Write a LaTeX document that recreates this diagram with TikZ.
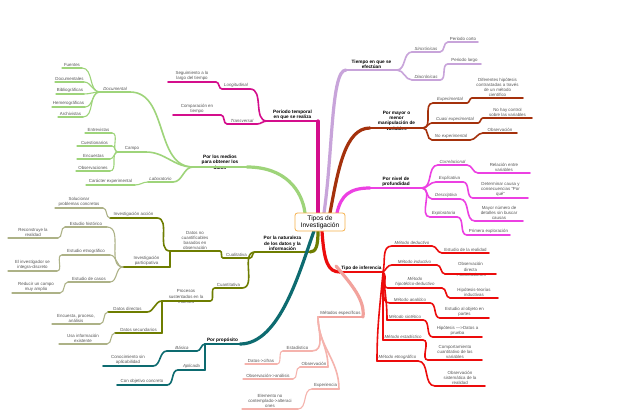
\documentclass[tikz,border=0pt]{standalone}
\usepackage{fontspec}
\setmainfont{Liberation Sans}
\definecolor{cA}{HTML}{9ED47A}
\definecolor{cB}{HTML}{6E7D00}
\definecolor{cBl}{HTML}{ADB287}
\definecolor{cC}{HTML}{0D6B70}
\definecolor{cD}{HTML}{D40E8C}
\definecolor{cE}{HTML}{C8A4DA}
\definecolor{cF}{HTML}{A4310C}
\definecolor{cG}{HTML}{EC40E2}
\definecolor{cH}{HTML}{EC0C0C}
\definecolor{cI}{HTML}{F2A29C}
\definecolor{cIl}{HTML}{F5B3AD}
\definecolor{cO}{HTML}{F6B04C}
\definecolor{tgray}{HTML}{555555}
\tikzset{
  lf/.style={font=\fontsize{4.4}{5.1}\selectfont, text=tgray, align=center, inner xsep=0pt, inner ysep=1.6pt, outer sep=0pt},
  lfi/.style={lf, font=\fontsize{4.4}{5.1}\selectfont\itshape},
  mn/.style={lf, font=\fontsize{4.7}{5.2}\selectfont\bfseries, text=black},
  ov/.style={inner ysep=-2.2pt},
  w0/.style={line width=3.2pt, line cap=round},
  w1/.style={line width=2.4pt, line cap=round},
  w2/.style={line width=1.6pt, line cap=round},
  w3/.style={line width=1.1pt, line cap=round},
  rootbox/.style={draw=cO, line width=0.8pt, rounded corners=2.5pt, fill=white, minimum width=50pt, minimum height=18pt, inner sep=1pt, align=center, font=\fontsize{6.6}{7.2}\selectfont, text=black}
}
\newcommand{\mmtopic}[7]{%
  \node[#1, minimum width={(#5-#4)*1pt}, anchor=south] (#3) at ({(#4+#5)/2},{-#6}) {#7};
  \draw[#2] (#3.south west) -- (#3.south east);}
\newcommand{\mmR}[3]{\draw[#1] (#2.south east) to[out=0,in=180] (#3.south west);}
\newcommand{\mmL}[3]{\draw[#1] (#2.south west) to[out=180,in=0] (#3.south east);}
\begin{document}
\begin{tikzpicture}[x=1pt,y=1pt]
\fill[white] (0,0) rectangle (640,-418);
\useasboundingbox (0,0) rectangle (640,-418);
% connection points on the central box
\coordinate (rA) at (305,-213);
\coordinate (rD) at (318,-213);
\coordinate (rE) at (324,-213);
\coordinate (rF) at (330,-213);
\coordinate (rG) at (337,-213);
\coordinate (rH) at (322,-231);
\coordinate (rI) at (336,-266);
\coordinate (rC) at (314,-231);
\coordinate (rB) at (318,-231);

% ---------- green: medios ----------
\mmtopic{mn,ov}{cA,w1}{A0}{193}{247}{167}{Por los medios\\para obtener los\\datos}
\mmtopic{lfi}{cA,w2}{A1}{100}{130}{92}{Documental}
\mmtopic{lf}{cA,w3}{A11}{62}{82}{68}{Fuentes}
\mmtopic{lf}{cA,w3}{A12}{55}{84}{82}{Documentales}
\mmtopic{lf}{cA,w3}{A13}{56}{84}{94}{Bibliográficas}
\mmtopic{lf}{cA,w3}{A14}{52}{85}{107}{Hemerográficas}
\mmtopic{lf}{cA,w3}{A15}{58}{83}{117}{Archivistas}
\mmtopic{lf}{cA,w2}{A2}{118}{146}{152}{Campo}
\mmtopic{lf}{cA,w3}{A21}{85}{112}{133}{Entrevistas}
\mmtopic{lf}{cA,w3}{A22}{77}{112}{146}{Cuestionarios}
\mmtopic{lf}{cA,w3}{A23}{77}{110}{159}{Encuestas}
\mmtopic{lf}{cA,w3}{A24}{76}{110}{171}{Observaciones}
\mmtopic{lfi}{cA,w2}{A3}{148}{173}{182}{Laboratorio}
\mmtopic{lf}{cA,w3}{A31}{86}{135}{185}{Carácter experimental}
\mmL{cA,w2}{A0}{A1}
\mmL{cA,w2}{A0}{A2}
\mmL{cA,w2}{A0}{A3}
\mmL{cA,w3}{A1}{A11}
\mmL{cA,w3}{A1}{A12}
\mmL{cA,w3}{A1}{A13}
\mmL{cA,w3}{A1}{A14}
\mmL{cA,w3}{A1}{A15}
\mmL{cA,w3}{A2}{A21}
\mmL{cA,w3}{A2}{A22}
\mmL{cA,w3}{A2}{A23}
\mmL{cA,w3}{A2}{A24}
\mmL{cA,w3}{A3}{A31}
\draw[cA,w0] (A0.south east) .. controls (285,-167) and (302,-190) .. (rA);

% ---------- olive: naturaleza ----------
\mmtopic{mn}{cB,w1}{B0}{255}{310}{252}{Por la naturaleza\\de los datos y la\\información}
\mmtopic{lf}{cB,w2}{B1}{223}{250}{258}{Cualitativa}
\mmtopic{lf}{cB,w2}{B2}{215}{242}{288}{Cuantitativa}
\mmtopic{lf}{cB,w2}{B1c}{170}{220}{251}{Datos no\\cuantificables\\basados en\\observación}
\mmtopic{lf}{cB,w2}{B11}{110}{157}{218}{Investigación acción}
\mmtopic{lf}{cB,w2}{B12}{123}{170}{267}{Investigación\\participativa}
\mmtopic{lf}{cBl,w3}{B11c}{55}{103}{208}{Solucionar\\problemas concretos}
\mmtopic{lf}{cBl,w3}{B121}{65}{107}{227}{Estudio histórico}
\mmtopic{lf}{cBl,w3}{B122}{62}{110}{255}{Estudio etnográfico}
\mmtopic{lf}{cBl,w3}{B123}{68}{110}{282}{Estudio de casos}
\mmtopic{lf}{cBl,w3}{B121c}{8}{58}{238}{Reconstruye la\\realidad}
\mmtopic{lf}{cBl,w3}{B122c}{8}{57}{271}{El investigador se\\integra-discreto}
\mmtopic{lf}{cBl,w3}{B123c}{12}{60}{293}{Reducir un campo\\muy amplio}
\mmtopic{lf,ov}{cB,w2}{B2c}{162}{210}{301}{Procesos\\sustentados en la\\muestra}
\mmtopic{lf}{cB,w2}{B21}{108}{147}{312}{Datos directos}
\mmtopic{lf}{cB,w2}{B22}{115}{162}{333}{Datos secundarios}
\mmtopic{lf}{cBl,w3}{B21c}{52}{100}{324}{Encuesta, proceso,\\análisis}
\mmtopic{lf}{cBl,w3}{B22c}{59}{107}{344}{Usa información\\existente}
\mmL{cB,w2}{B0}{B1}
\mmL{cB,w2}{B0}{B2}
\mmL{cB,w2}{B1}{B1c}
\mmL{cB,w2}{B1c}{B11}
\draw[cB,w2] (B1c.south west) -- (B12.south east);
\mmL{cBl,w3}{B11}{B11c}
\mmL{cBl,w3}{B12}{B121}
\mmL{cBl,w3}{B12}{B122}
\mmL{cBl,w3}{B12}{B123}
\mmL{cBl,w3}{B121}{B121c}
\mmL{cBl,w3}{B122}{B122c}
\mmL{cBl,w3}{B123}{B123c}
\mmL{cB,w2}{B2}{B2c}
\mmL{cB,w2}{B2c}{B21}
\draw[cB,w2] (B2c.south west) -- (B22.south east);
\mmL{cBl,w3}{B21}{B21c}
\mmL{cBl,w3}{B22}{B22c}
\draw[cB,w0] (rB) .. controls (318,-246) and (316,-252) .. (B0.south east);

% ---------- teal: proposito ----------
\mmtopic{mn}{cC,w1}{C0}{205}{240}{344}{Por propósito}
\mmtopic{lfi}{cC,w2}{C1}{167}{197}{351}{Básica}
\mmtopic{lfi}{cC,w2}{C2}{178}{205}{370}{Aplicada}
\mmtopic{lf}{cC,w2}{C1c}{103}{153}{366}{Conocimiento sin\\aplicabilidad}
\mmtopic{lf}{cC,w2}{C2c}{117}{167}{385}{Con objetivo concreto}
\mmL{cC,w2}{C0}{C1}
\draw[cC,w2] (C0.south west) -- (C2.south east);
\mmL{cC,w2}{C1}{C1c}
\mmL{cC,w2}{C2}{C2c}
\draw[cC,w0] (rC) .. controls (300,-270) and (280,-344) .. (C0.south east);

% ---------- magenta: periodo ----------
\mmtopic{mn}{cD,w1}{D0}{267}{318}{121}{Periodo temporal\\en que se realiza}
\mmtopic{lfi}{cD,w2}{D1}{222}{250}{89}{Longitudinal}
\mmtopic{lfi}{cD,w2}{D2}{227}{257}{124}{Transversal}
\mmtopic{lf}{cD,w2}{D1c}{168}{216}{82}{Seguimiento a lo\\largo del tiempo}
\mmtopic{lf}{cD,w2}{D2c}{173}{221}{115}{Comparación en\\tiempo}
\mmL{cD,w2}{D0}{D1}
\mmL{cD,w2}{D0}{D2}
\mmL{cD,w2}{D1}{D1c}
\mmL{cD,w2}{D2}{D2c}
\draw[cD,w0] (D0.south east) -- (rD);

% ---------- lilac: tiempo ----------
\mmtopic{mn}{cE,w1}{E0}{346}{397}{70}{Tiempo en que se\\efectúan}
\mmtopic{lfi}{cE,w2}{E1}{412}{440}{52}{Sincrónicas}
\mmtopic{lfi}{cE,w2}{E2}{412}{440}{80}{Diacrónicas}
\mmtopic{lf}{cE,w2}{E1c}{448}{478}{42}{Periodo corto}
\mmtopic{lf}{cE,w2}{E2c}{448}{481}{64}{Periodo largo}
\mmR{cE,w2}{E0}{E1}
\mmR{cE,w2}{E0}{E2}
\mmR{cE,w2}{E1}{E1c}
\mmR{cE,w2}{E2}{E2c}
\draw[cE,w0] (rE) .. controls (333,-150) and (331,-70) .. (E0.south west);

% ---------- brown: manipulacion ----------
\mmtopic{mn,ov}{cF,w1}{F0}{370}{423}{128}{Por mayor o\\menor\\manipulación de\\variables}
\mmtopic{lfi}{cF,w2}{F1}{433}{467}{103}{Experimental}
\mmtopic{lfi}{cF,w2}{F2}{432}{478}{123}{Cuasi experimental}
\mmtopic{lfi}{cF,w2}{F3}{432}{470}{140}{No experimental}
\mmtopic{lf}{cF,w2}{F1c}{472}{523}{98}{Diferentes hipótesis\\contrastadas a través\\de un método\\científico}
\mmtopic{lf}{cF,w2}{F2c}{483}{532}{118}{No hay control\\sobre las variables}
\mmtopic{lf}{cF,w2}{F3c}{483}{517}{133}{Observación}
\mmR{cF,w2}{F0}{F1}
\mmR{cF,w2}{F0}{F2}
\mmR{cF,w2}{F0}{F3}
\mmR{cF,w2}{F1}{F1c}
\mmR{cF,w2}{F2}{F2c}
\mmR{cF,w2}{F3}{F3c}
\draw[cF,w0] (rF) .. controls (338,-170) and (345,-128) .. (F0.south west);

% ---------- pink: profundidad ----------
\mmtopic{mn}{cG,w1}{G0}{370}{422}{188}{Por nivel de\\profundidad}
\mmtopic{lfi}{cG,w2}{G1}{438}{467}{165}{Correlacional}
\mmtopic{lfi}{cG,w2}{G2}{436}{463}{182}{Explicativa}
\mmtopic{lfi}{cG,w2}{G3}{432}{460}{199}{Descriptiva}
\mmtopic{lfi}{cG,w2}{G4}{430}{457}{217}{Exploratoria}
\mmtopic{lf}{cG,w2}{G1c}{478}{530}{173}{Relación entre\\variables}
\mmtopic{lf}{cG,w2}{G2c}{473}{528}{198}{Determinar causa y\\consecuencias "Por\\qué"}
\mmtopic{lf}{cG,w2}{G3c}{475}{523}{221}{Mayor número de\\detalles sin buscar\\causas}
\mmtopic{lf}{cG,w2}{G4c}{467}{510}{235}{Primera exploración}
\mmR{cG,w2}{G0}{G1}
\mmR{cG,w2}{G0}{G2}
\mmR{cG,w2}{G0}{G3}
\mmR{cG,w2}{G0}{G4}
\mmR{cG,w2}{G1}{G1c}
\mmR{cG,w2}{G2}{G2c}
\mmR{cG,w2}{G3}{G3c}
\mmR{cG,w2}{G4}{G4c}
\draw[cG,w0] (rG) .. controls (341,-195) and (350,-188) .. (G0.south west);

% ---------- red: inferencia ----------
\mmtopic{mn}{cH,w1}{H0}{340}{383}{272}{Tipo de inferencia}
\mmtopic{lfi}{cH,w2}{H1}{392}{432}{246}{Método deductivo}
\mmtopic{lfi}{cH,w2}{H2}{392}{437}{265}{Método inductivo}
\mmtopic{lfi}{cH,w2}{H3}{388}{442}{288}{Método\\hipotético-deductivo}
\mmtopic{lfi}{cH,w2}{H4}{390}{430}{303}{Método analítico}
\mmtopic{lfi}{cH,w2}{H5}{387}{423}{320}{Método sintético}
\mmtopic{lfi}{cH,w2}{H6}{383}{423}{340}{Método estadístico}
\mmtopic{lfi}{cH,w2}{H7}{377}{418}{361}{Método etnográfico}
\mmtopic{lf}{cH,w2}{H1c}{442}{489}{253}{Estudio de la realidad}
\mmtopic{lf,ov}{cH,w2}{H2c}{445}{496}{274}{Observación\\directa\\->Conclusiones}
\mmtopic{lf}{cH,w2}{H3c}{450}{498}{298}{Hipótesis-teorías\\inductivas}
\mmtopic{lf}{cH,w2}{H4c}{440}{489}{318}{Estudio al objeto en\\partes}
\mmtopic{lf}{cH,w2}{H5c}{433}{482}{337}{Hipótesis —>Datos a\\prueba}
\mmtopic{lf}{cH,w2}{H6c}{428}{482}{360}{Comportamiento\\cuantitativo de las\\variables}
\mmtopic{lf}{cH,w2}{H7c}{435}{485}{386}{Observación\\sistemática de la\\realidad}
\draw[cH,w2] (H0.south east) to[out=75,in=180] (H1.south west);
\draw[cH,w2] (H0.south east) to[out=40,in=180] (H2.south west);
\draw[cH,w2] (H0.south east) to[out=-40,in=180] (H3.south west);
\draw[cH,w2] (H0.south east) to[out=-65,in=180] (H4.south west);
\draw[cH,w2] (H0.south east) to[out=-85,in=90] (H5.south west);
\draw[cH,w2] (H0.south east) -- (H6.south west);
\draw[cH,w2] (H0.south east) to[out=-95,in=90] (H7.south west);
\mmR{cH,w2}{H1}{H1c}
\mmR{cH,w2}{H2}{H2c}
\mmR{cH,w2}{H3}{H3c}
\mmR{cH,w2}{H4}{H4c}
\mmR{cH,w2}{H5}{H5c}
\mmR{cH,w2}{H6}{H6c}
\mmR{cH,w2}{H7}{H7c}
\draw[cH,w0] (rH) .. controls (324,-262) and (328,-272) .. (H0.south west);

% ---------- salmon: metodos especificos ----------
\mmtopic{lf}{cI,w2}{I0}{318}{363}{317}{Métodos específicos}
\mmtopic{lf}{cIl,w2}{I1}{283}{312}{351}{Estadístico}
\mmtopic{lf}{cIl,w2}{I2}{300}{328}{367}{Observación}
\mmtopic{lf}{cIl,w2}{I3}{312}{339}{389}{Experiencia}
\mmtopic{lf}{cIl,w3}{I1c}{245}{277}{364}{Datos->cifras}
\mmtopic{lf}{cIl,w3}{I2c}{243}{293}{379}{Observación->análisis}
\mmtopic{lf}{cIl,w3}{I3c}{242}{298}{409}{Elemento no\\contemplado->alteraci\\ones}
\draw[cIl,w2] (I0.south west) to[out=-90,in=0] (I1.south east);
\draw[cIl,w2] (I0.south west) to[out=-90,in=90] (I2.south east);
\draw[cIl,w2] (I0.south west) to[out=-90,in=90] (I3.south east);
\mmL{cIl,w3}{I1}{I1c}
\mmL{cIl,w3}{I2}{I2c}
\mmL{cIl,w3}{I3}{I3c}
\draw[cI,w0] (rI) .. controls (352,-285) and (365,-300) .. (I0.south east);

% ---------- central box ----------
\node[rootbox] (root) at (320,-222) {Tipos de\\Investigación};
\end{tikzpicture}
\end{document}
